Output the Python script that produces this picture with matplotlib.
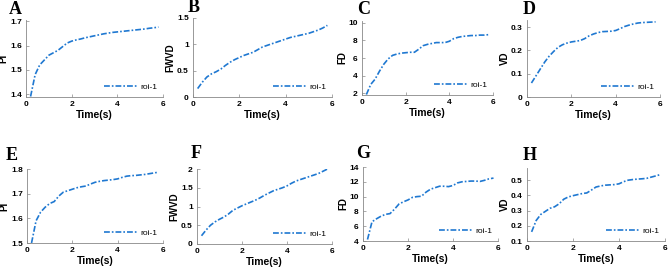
import matplotlib
matplotlib.use("Agg")
import matplotlib.pyplot as plt
import numpy as np

plt.rcParams['font.family'] = ['Liberation Sans', 'DejaVu Sans']
plt.rcParams['font.weight'] = 'bold'

# time axis (s)
time_s = [0.2, 0.4, 0.6, 0.8, 1.0, 1.2, 1.4, 1.6, 1.8, 2.0, 2.2, 2.4, 2.6, 2.8, 3.0,
          3.2, 3.4, 3.6, 3.8, 4.0, 4.2, 4.4, 4.6, 4.8, 5.0, 5.2, 5.4, 5.6, 5.8]

# top row
pi_a = [1.39, 1.48, 1.52, 1.54, 1.56, 1.57, 1.58, 1.595, 1.61, 1.618, 1.623, 1.627, 1.632,
        1.636, 1.64, 1.644, 1.648, 1.651, 1.654, 1.656, 1.658, 1.66, 1.662, 1.664, 1.666,
        1.668, 1.671, 1.673, 1.676]
fwvd_b = [0.16, 0.28, 0.38, 0.44, 0.48, 0.53, 0.60, 0.66, 0.71, 0.75, 0.79, 0.82, 0.85, 0.90,
          0.95, 0.98, 1.01, 1.04, 1.07, 1.10, 1.13, 1.15, 1.17, 1.19, 1.21, 1.24, 1.27, 1.31, 1.36]
fd_c = [1.85, 3.0, 3.6, 4.5, 5.3, 5.9, 6.3, 6.45, 6.55, 6.6, 6.65, 6.65, 7.0, 7.4, 7.55, 7.65,
        7.75, 7.75, 7.75, 7.9, 8.2, 8.35, 8.45, 8.5, 8.55, 8.55, 8.6, 8.6, 8.65]
vd_d = [0.06, 0.09, 0.12, 0.15, 0.175, 0.195, 0.213, 0.224, 0.231, 0.236, 0.239, 0.242, 0.25,
        0.262, 0.27, 0.276, 0.28, 0.281, 0.282, 0.285, 0.293, 0.302, 0.308, 0.313, 0.317,
        0.319, 0.32, 0.321, 0.322]

# bottom row
pi_e = [1.50, 1.59, 1.625, 1.645, 1.66, 1.668, 1.69, 1.706, 1.712, 1.718, 1.724, 1.728, 1.731,
        1.739, 1.746, 1.75, 1.753, 1.755, 1.757, 1.76, 1.766, 1.771, 1.773, 1.774, 1.776,
        1.778, 1.781, 1.784, 1.787]
fwvd_f = [0.22, 0.37, 0.50, 0.59, 0.66, 0.72, 0.80, 0.90, 0.96, 1.02, 1.07, 1.12, 1.17, 1.23,
          1.30, 1.36, 1.42, 1.46, 1.50, 1.55, 1.62, 1.68, 1.72, 1.76, 1.80, 1.84, 1.88, 1.94, 2.00]
fd_g = [4.2, 6.6, 7.0, 7.35, 7.6, 7.7, 8.3, 9.0, 9.3, 9.55, 9.9, 10.0, 10.05, 10.6, 11.0, 11.2,
        11.4, 11.4, 11.35, 11.5, 11.85, 12.0, 12.05, 12.1, 12.1, 12.05, 12.2, 12.4, 12.5]
vd_h = [0.16, 0.235, 0.275, 0.295, 0.315, 0.325, 0.345, 0.375, 0.39, 0.398, 0.405, 0.412, 0.416,
        0.435, 0.455, 0.462, 0.467, 0.469, 0.471, 0.476, 0.49, 0.5, 0.504, 0.507, 0.509, 0.512,
        0.52, 0.528, 0.537]

letters = ['A', 'B', 'C', 'D', 'E', 'F', 'G', 'H']
ylabels = ['PI', 'FWVD', 'FD', 'VD', 'PI', 'FWVD', 'FD', 'VD']
series = [pi_a, fwvd_b, fd_c, vd_d, pi_e, fwvd_f, fd_g, vd_h]
ylims = [(1.388, 1.705), (0, 1.5), (1.8, 10.2), (0, 0.33),
         (1.5, 1.8), (0, 2), (4, 14), (0.1, 0.58)]
yticks = [[1.4, 1.5, 1.6, 1.7], [0, 0.5, 1, 1.5], [2, 4, 6, 8, 10], [0, 0.1, 0.2, 0.3],
          [1.5, 1.6, 1.7, 1.8], [0, 0.5, 1, 1.5, 2], [4, 6, 8, 10, 12, 14], [0.1, 0.2, 0.3, 0.4, 0.5]]

W, H = 669, 268
# axes boxes in pixels: left, right, top, bottom
boxes = [(26, 163, 20, 97), (193, 332, 18, 97), (362, 493, 21, 95), (527, 660, 20, 97),
         (27, 163, 169, 243), (197, 332, 169, 244), (363, 498, 167, 241), (527, 665, 168, 241)]
letter_pos = [(15, 9), (194, 8), (364, 9), (529, 9), (12, 156), (196, 154), (363, 154), (530, 156)]

line_color = '#1f78d1'

fig = plt.figure(figsize=(W / 100, H / 100), dpi=100)

for i in range(8):
    l, r, t, b = boxes[i]
    ax = fig.add_axes([l / W, 1 - b / H, (r - l) / W, (b - t) / H])
    ax.plot(time_s, series[i], linestyle=(0, (3.5, 1.2, 1.0, 1.2)), color=line_color,
            linewidth=1.2, label='roi-1')
    ax.set_xlim(0, 6)
    ax.set_ylim(*ylims[i])
    ax.set_xticks([0, 2, 4, 6])
    ax.set_yticks(yticks[i])
    ax.set_yticklabels([f'{v:g}' for v in yticks[i]])
    ax.spines['top'].set_visible(False)
    ax.spines['right'].set_visible(False)
    ax.spines['left'].set_color('#888888')
    ax.spines['bottom'].set_color('#888888')
    ax.spines['left'].set_linewidth(0.6)
    ax.spines['bottom'].set_linewidth(0.6)
    ax.tick_params(direction='in', length=2, width=0.5, color='#888888',
                   labelsize=6, pad=3)
    ax.set_xlabel('Time(s)', fontsize=7.5, fontweight='bold', labelpad=1)
    ax.set_ylabel(ylabels[i], fontsize=7, fontweight='bold', labelpad=1)
    leg = ax.legend(loc='lower right', frameon=False, fontsize=6, handlelength=4,
                    handletextpad=0.3, borderaxespad=0.3)
    for txt in leg.get_texts():
        txt.set_fontweight('normal')
    lx, ly = letter_pos[i]
    fig.text(lx / W, 1 - ly / H, letters[i], family='Liberation Serif', fontweight='bold',
             fontsize=13, ha='center', va='center')

plt.savefig('out.png', dpi=100)
